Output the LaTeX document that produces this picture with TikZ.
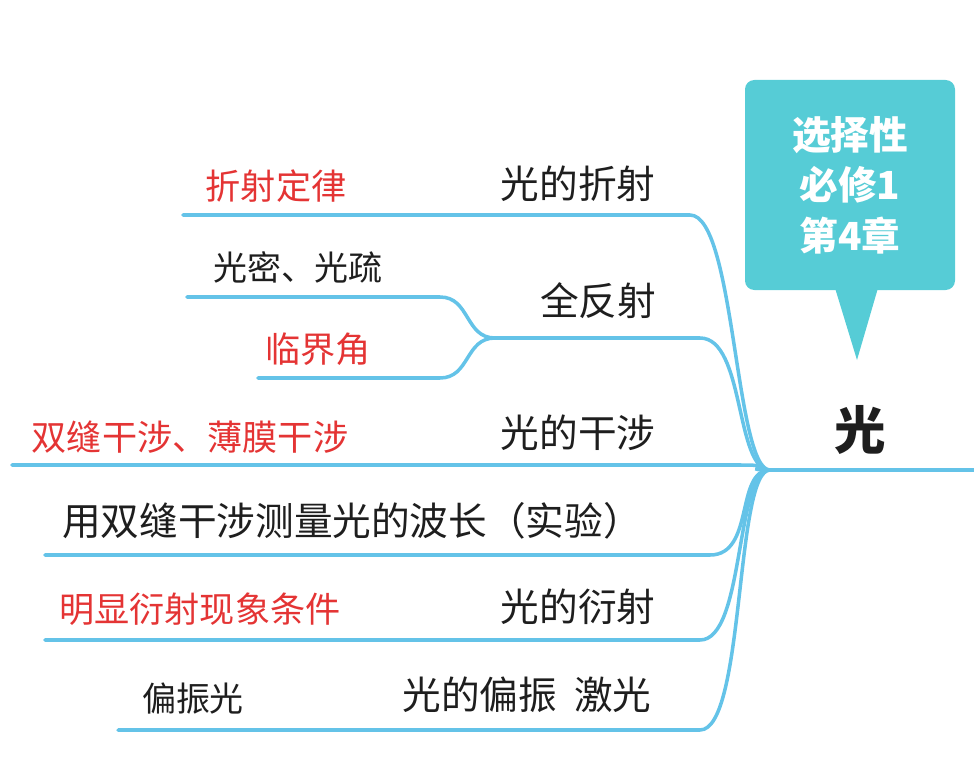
\documentclass[tikz,border=0pt]{standalone}
\usepackage{fontspec}
\setmainfont{Noto Sans CJK SC}
\usetikzlibrary{calc}
\definecolor{branchblue}{RGB}{100,195,232}
\definecolor{calloutteal}{RGB}{86,204,214}
\definecolor{notered}{RGB}{228,52,52}
\definecolor{labelgray}{RGB}{30,30,30}
\tikzset{
  branch/.style={draw=branchblue, line width=3pt, line cap=round},
  topic/.style={text=labelgray, font=\fontsize{33}{37}\selectfont, inner sep=0pt},
  note/.style={text=notered, font=\fontsize{30}{34}\selectfont, inner sep=0pt},
  plain/.style={text=labelgray, font=\fontsize{29}{33}\selectfont, inner sep=0pt}
}
\begin{document}
\begin{tikzpicture}[x=0.03cm, y=-0.03cm]
\useasboundingbox (0,0) rectangle (974,758);
% callout
\fill[calloutteal, rounded corners=8pt] (745,80) rectangle (955,290);
\fill[calloutteal] (835,288) -- (857,360) -- (878,288) -- cycle;
\node[text=white, font=\bfseries\fontsize{33}{43}\selectfont, align=center] (tag) at (850,185) {选择性\\必修1\\第4章};
\node[text=labelgray, font=\bfseries\fontsize{44}{48}\selectfont] (root) at (860,430) {光};
% hub
\coordinate (hub) at (770,470);
\coordinate (rootend) at (974,470);
\draw[branch] (hub) -- (rootend);
% branch ends
\coordinate (refl) at (183,215);   \coordinate (reflE) at (690,215);
\coordinate (tot) at (495,338);    \coordinate (totE) at (700,338);
\coordinate (dens) at (187,297);   \coordinate (densE) at (440,297);
\coordinate (crit) at (258,378);   \coordinate (critE) at (440,378);
\coordinate (intf) at (12,465);    \coordinate (intfE) at (740,465);
\coordinate (expt) at (45,555);    \coordinate (exptE) at (710,555);
\coordinate (diff) at (45,640);    \coordinate (diffE) at (700,640);
\coordinate (pol) at (118,730);    \coordinate (polE) at (700,730);
\foreach \a/\b in {refl/reflE, tot/totE, intf/intfE, expt/exptE, diff/diffE, pol/polE}{
  \draw[branch] (\a) -- (\b) .. controls ($(\b)+(45,0)$) and (735,470) .. (hub);
}
\foreach \a/\b in {dens/densE, crit/critE}{
  \draw[branch] (\a) -- (\b) .. controls ($(\b)+(30,0)$) and ($(tot)+(-30,0)$) .. (tot);
}
% labels
\node[topic] (reflT) at (578,184) {光的折射};
\node[note] (reflN) at (276,186) {折射定律};
\node[topic] (totT) at (598,301) {全反射};
\node[plain] (densT) at (298,267) {光密、光疏};
\node[note] (critT) at (318,349) {临界角};
\node[topic] (intfT) at (578,433) {光的干涉};
\node[note] (intfN) at (190,437) {双缝干涉、薄膜干涉};
\node[topic] (exptT) at (352,521) {用双缝干涉测量光的波长（实验）};
\node[topic] (diffT) at (578,607) {光的衍射};
\node[note] (diffN) at (200,609) {明显衍射现象条件};
\node[topic] (polT) at (527,695) {光的偏振\ \ 激光};
\node[plain] (polN) at (193,699) {偏振光};
\end{tikzpicture}
\end{document}
